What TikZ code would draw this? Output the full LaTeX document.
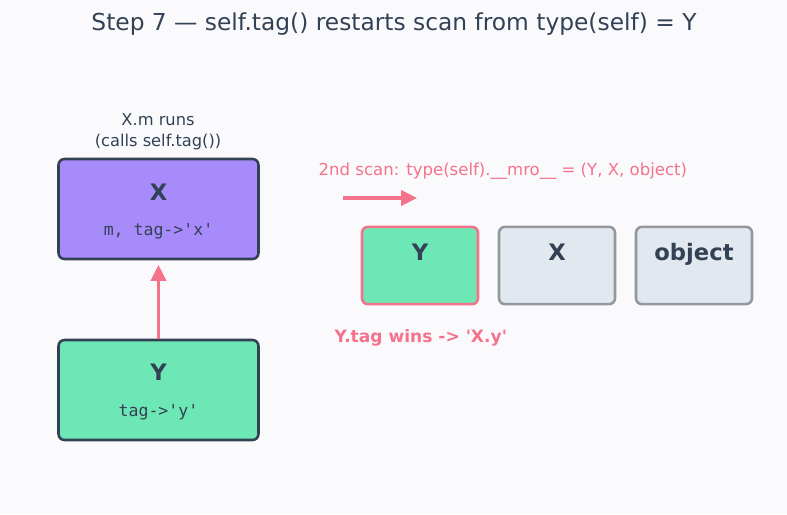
\documentclass[tikz,border=0pt]{standalone}
\usepackage{fontspec}
\setmainfont{DejaVu Sans}
\setmonofont{DejaVu Sans Mono}
\usetikzlibrary{arrows.meta}

\definecolor{ink}{HTML}{334155}
\definecolor{pinkred}{HTML}{F4738A}
\definecolor{violet}{HTML}{A78BFA}
\definecolor{mint}{HTML}{6EE7B7}
\definecolor{slatebg}{HTML}{E2E8F0}
\definecolor{slateline}{HTML}{94979D}
\definecolor{paper}{HTML}{FAFAFD}

\begin{document}
\begin{tikzpicture}[x=0.75pt,y=-0.75pt,
  classbox/.style={draw=ink,line width=1.9pt,rounded corners=4.5pt,
    minimum width=150pt,minimum height=75pt},
  mrobox/.style={draw=slateline,fill=slatebg,line width=1.9pt,rounded corners=4.5pt,
    minimum width=87pt,minimum height=58pt},
  boxname/.style={anchor=base,text=ink,inner sep=0pt,font=\fontsize{17}{20}\selectfont\bfseries},
  boxcode/.style={anchor=base,text=ink,inner sep=0pt,font=\ttfamily\fontsize{12.4}{15}\selectfont},
  flow/.style={draw=pinkred,line width=2.3pt,-{Triangle[length=12pt,width=11.5pt]}}]
\fill[paper] (0,0) rectangle (787,514);
\useasboundingbox (0,0) rectangle (787,514);

\node[text=ink,font=\fontsize{17.5}{20}\selectfont] (title) at (394,24.5)
  {Step 7 — self.tag() restarts scan from type(self) = Y};

% class X and its caller note
\node[classbox,fill=violet] (clsX) at (158.5,209) {};
\node[boxname] at ([yshift=-32.3pt]clsX.north) {X};
\node[boxcode] at ([yshift=-58pt]clsX.north) {m, tag->'x'};
\node[text=ink,align=center,font=\fontsize{12.2}{15.8}\selectfont] (note) at (158,131.5)
  {X.m runs\\(calls self.tag())};

% class Y
\node[classbox,fill=mint] (clsY) at (158.5,390) {};
\node[boxname] at ([yshift=-31.5pt]clsY.north) {Y};
\node[boxcode] at ([yshift=-58.5pt]clsY.north) {tag->'y'};
\draw[flow] (clsY.north) -- ([yshift=-3.5pt]clsX.south);

% second scan along the mro
\node[anchor=west,text=pinkred,font=\fontsize{12.4}{15}\selectfont] (scan) at (314,171.5)
  {2nd scan: type(self).\_\_mro\_\_ = (Y, X, object)};
\coordinate (scanA) at (343,198);
\coordinate (scanB) at (417,198);
\draw[flow] (scanA) -- (scanB);

\node[mrobox,fill=mint,draw=pinkred] (mroY) at (420,265.5) {};
\node[mrobox] (mroX) at (557,265.5) {};
\node[mrobox] (mroO) at (694,265.5) {};
\node[boxname] at ([yshift=-26pt]mroY.north) {Y};
\node[boxname] at ([yshift=-26pt]mroX.north) {X};
\node[boxname] at ([yshift=-26pt]mroO.north) {object};

\node[anchor=west,text=pinkred,font=\fontsize{12.8}{15}\selectfont\bfseries] (wins) at (330,338)
  {Y.tag wins -> \textquotesingle X.y\textquotesingle};
\end{tikzpicture}
\end{document}
